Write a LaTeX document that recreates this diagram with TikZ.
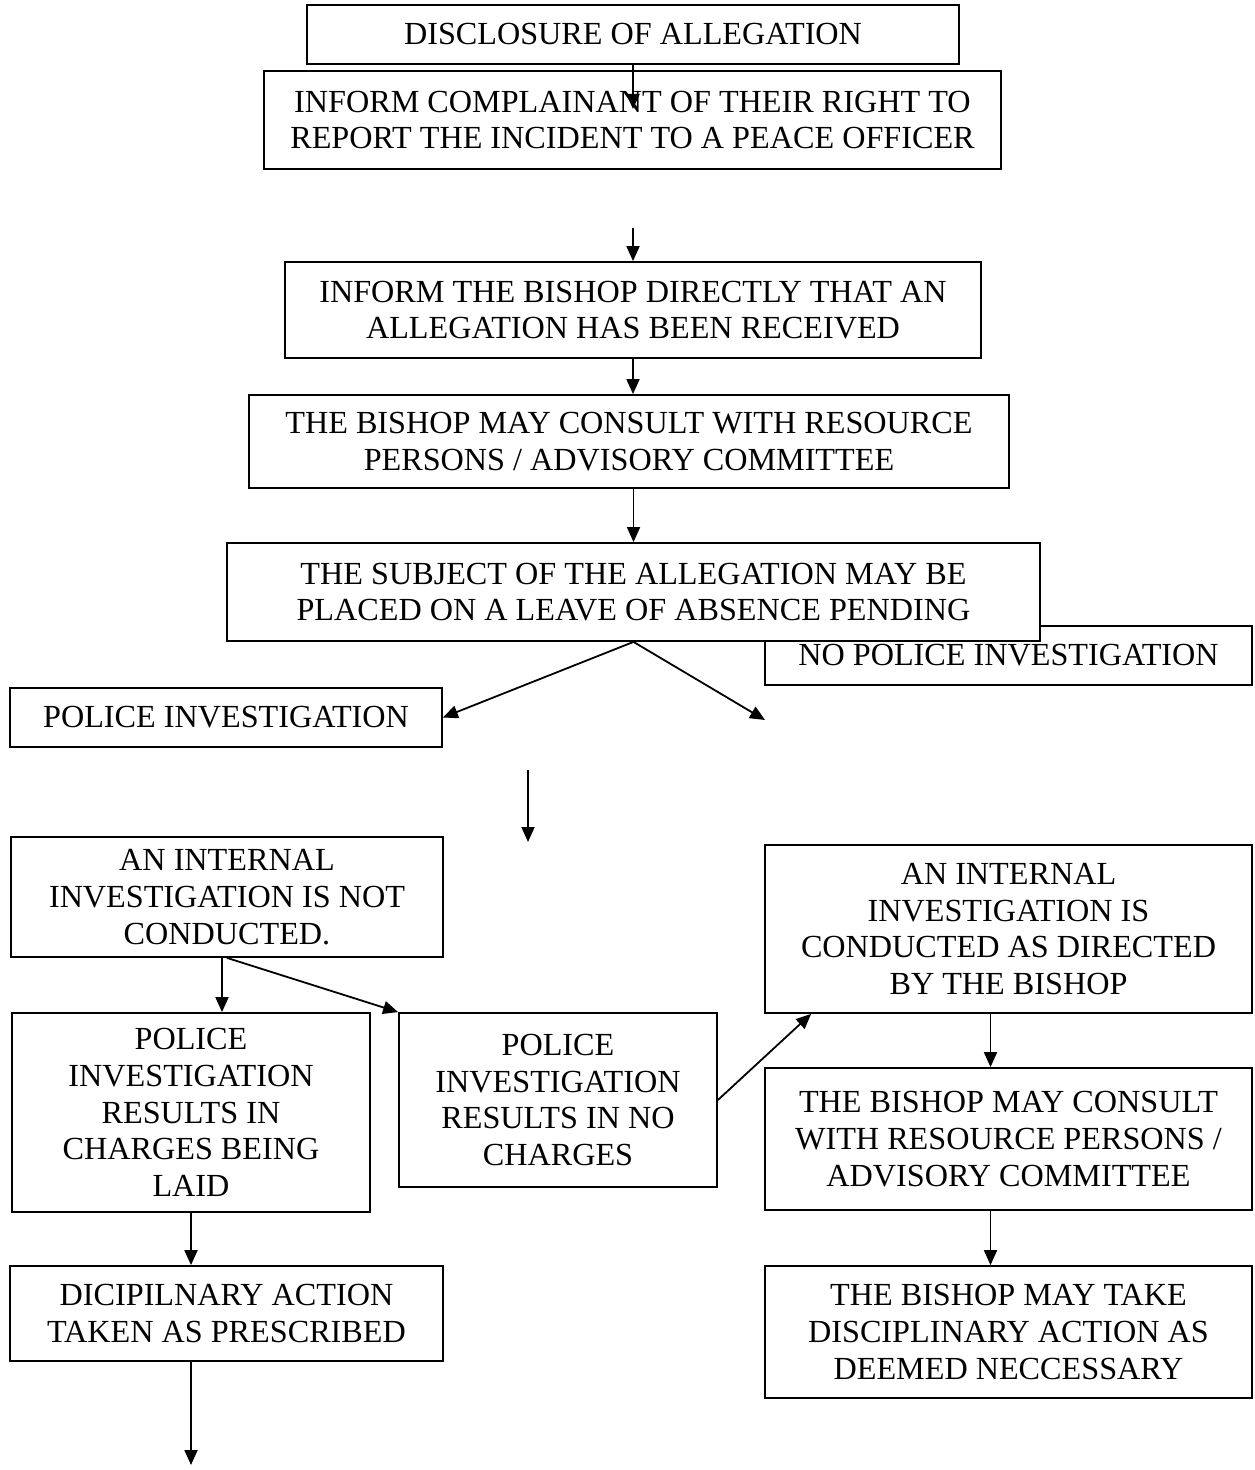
\documentclass[tikz,border=0pt]{standalone}
\usepackage{fontspec}
\setmainfont{Liberation Serif}
\usetikzlibrary{arrows.meta, positioning}

\begin{document}
\begin{tikzpicture}[
  x=0.5pt, y=-0.5pt,
  box/.style={rectangle, draw=black, line width=0.9pt, fill=white, align=center,
              inner sep=0pt, font=\fontsize{16.1}{18.3}\selectfont},
  arr/.style={-{Triangle[length=7.5pt, width=6.5pt]}, line width=0.9pt}
]
\useasboundingbox (0,0) rectangle (1254,1470);

% main column
\node[box, minimum width=326pt, minimum height=29.5pt] (disc) at (633,34.5)
  {DISCLOSURE OF ALLEGATION};
\node[box, minimum width=368.5pt, minimum height=49pt] (inform) at (632.5,120)
  {INFORM COMPLAINANT OF THEIR RIGHT TO\\REPORT THE INCIDENT TO A PEACE OFFICER};
\node[box, minimum width=348pt, minimum height=48pt] (bishop) at (633,310)
  {INFORM THE BISHOP DIRECTLY THAT AN\\ALLEGATION HAS BEEN RECEIVED};
\node[box, minimum width=380pt, minimum height=46.5pt] (consult) at (629,441.5)
  {THE BISHOP MAY CONSULT WITH RESOURCE\\PERSONS / ADVISORY COMMITTEE};
\node[box, minimum width=243.5pt, minimum height=29.5pt] (nopol) at (1008.5,655.5)
  {NO POLICE INVESTIGATION};
\node[box, minimum width=406.5pt, minimum height=49pt] (subject) at (633.5,592)
  {THE SUBJECT OF THE ALLEGATION MAY BE\\PLACED ON A LEAVE OF ABSENCE PENDING};

% left branch
\node[box, minimum width=216pt, minimum height=29.5pt] (police) at (226,717.5)
  {POLICE INVESTIGATION};
\node[box, minimum width=216pt, minimum height=60pt] (notcond) at (227,897)
  {AN INTERNAL\\INVESTIGATION IS NOT\\CONDUCTED.};
\node[box, minimum width=179pt, minimum height=99.5pt] (charges) at (191,1112.5)
  {POLICE\\INVESTIGATION\\RESULTS IN\\CHARGES BEING\\LAID};
\node[box, minimum width=159pt, minimum height=87pt] (nocharges) at (558,1100)
  {POLICE\\INVESTIGATION\\RESULTS IN NO\\CHARGES};
\node[box, minimum width=216.5pt, minimum height=47.5pt] (dicip) at (226.5,1313.5)
  {DICIPILNARY ACTION\\TAKEN AS PRESCRIBED};

% right branch
\node[box, minimum width=243.5pt, minimum height=84pt] (intcond) at (1008.5,929)
  {AN INTERNAL\\INVESTIGATION IS\\CONDUCTED AS DIRECTED\\BY THE BISHOP};
\node[box, minimum width=243.5pt, minimum height=71pt] (consult2) at (1008.5,1139)
  {THE BISHOP MAY CONSULT\\WITH RESOURCE PERSONS /\\ADVISORY COMMITTEE};
\node[box, minimum width=243.5pt, minimum height=66pt] (take) at (1008.5,1332)
  {THE BISHOP MAY TAKE\\DISCIPLINARY ACTION AS\\DEEMED NECCESSARY};

% free arrow ends
\coordinate (informin) at (633,109);
\coordinate (bishopin) at (633,228);
\coordinate (splitend) at (765,720);
\coordinate (midtop)   at (528,770);
\coordinate (midbot)   at (528,842);
\coordinate (lastend)  at (191,1465);

\draw[arr] (disc.south) -- (informin);
\draw[arr] (bishopin) -- (bishop.north);
\draw[arr] (bishop.south) -- (bishop.south |- consult.north);
\draw[arr] (subject.north |- consult.south) -- (subject.north);
\draw[arr] (subject.south) -- (police.east);
\draw[arr] (subject.south) -- (splitend);
\draw[arr] (midtop) -- (midbot);
\draw[arr] ([xshift=-2.5pt]notcond.south) -- ([xshift=-2.5pt]notcond.south |- charges.north);
\draw[arr] (notcond.south) -- (nocharges.north west);
\draw[arr] (nocharges.east) -- ([xshift=23.5pt]intcond.south west);
\draw[arr] ([xshift=-9pt]intcond.south) -- ([xshift=-9pt]consult2.north);
\draw[arr] ([xshift=-9pt]consult2.south) -- ([xshift=-9pt]take.north);
\draw[arr] (charges.south) -- (charges.south |- dicip.north);
\draw[arr] (charges.south |- dicip.south) -- (lastend);

\end{tikzpicture}
\end{document}
